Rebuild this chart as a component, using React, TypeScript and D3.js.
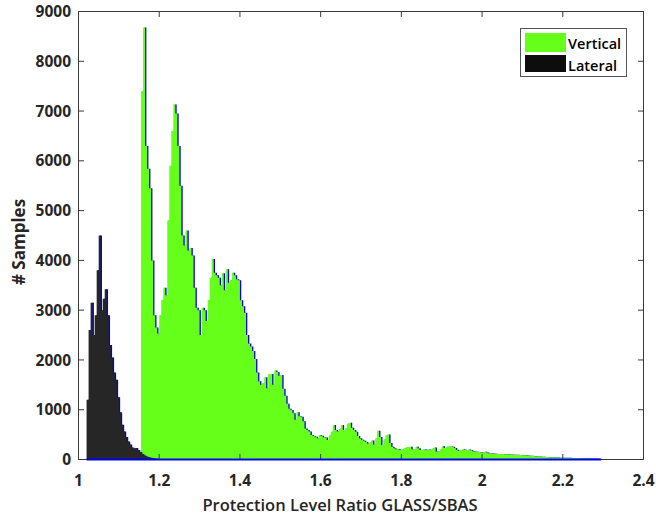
import React from "react";
import * as d3 from "d3";

// ---- data (histogram counts, bin width 0.005) ----
const BIN_WIDTH = 0.005;
const lateralStart = 1.02;
const lateralCounts = [
  1200, 2600, 3150, 2500, 2900, 3800, 4500, 3000, 3230, 3420,
  2900, 2300, 2050, 1750, 1600, 1250, 950, 700, 560, 450,
  360, 300, 240, 220, 230, 190, 150, 110, 80, 60,
  45, 35, 25, 20, 15, 10,
];
const verticalStart = 1.155;
const verticalCounts = [
  7400, 8680, 6300, 5840, 5450, 4000, 2900, 2650, 2530, 2900,
  3200, 3450, 3300, 4800, 5900, 6600, 7130, 6950, 6300, 5500,
  4500, 4300, 4600, 4200, 4250, 4100, 3450, 3050, 3000, 2500,
  3050, 3000, 2780, 3200, 3650, 4030, 3750, 3700, 3650, 3500,
  3740, 3400, 3820, 3550, 3600, 3750, 3700, 3620, 3600, 3200,
  3080, 2950, 2500, 2330, 2270, 2180, 2020, 1750, 1570, 1500,
  1530, 1650, 1430, 1720, 1720, 1500, 1790, 1760, 1680, 1700,
  1420, 1280, 1120, 1020, 994, 930, 800, 950, 870, 860,
  770, 625, 592, 560, 490, 470, 458, 425, 492, 475,
  445, 440, 391, 480, 559, 692, 592, 560, 620, 692,
  592, 625, 720, 740, 640, 592, 559, 470, 425, 395,
  378, 350, 320, 340, 380, 300, 420, 580, 450, 291,
  400, 480, 500, 330, 258, 224, 205, 211, 191, 204,
  224, 240, 250, 258, 204, 210, 255, 224, 191, 195,
  204, 195, 200, 195, 220, 240, 160, 157, 204, 265,
  230, 258, 258, 262, 255, 230, 195, 177, 190, 204,
  198, 191, 200, 185, 165, 160, 155, 150, 145, 137,
  155, 140, 128, 124, 120, 115, 110, 112, 110, 108,
  106, 104, 100, 101, 97, 95, 93, 90, 88, 86,
  84, 80, 76, 73, 70, 66, 62, 58, 55, 53,
  51, 49, 47, 45, 43, 41, 39, 37, 37, 36,
  35, 34, 33, 31, 30, 30, 29, 28, 27, 26,
  24, 23, 22, 21, 20, 18, 15, 10,
];
const xTicks = [1, 1.2, 1.4, 1.6, 1.8, 2, 2.2, 2.4];
const yTicks = [0, 1000, 2000, 3000, 4000, 5000, 6000, 7000, 8000, 9000];
const seriesNames = ["Vertical", "Lateral"];

const GREEN = "#66ff1a";
const DARK = "#262626";
const EDGE = "#0000ee";
const FONT = "'Open Sans', 'Liberation Sans', sans-serif";
const TEXT = "#262626";

export default function App() {
  const W = 656, H = 516;
  const x = d3.scaleLinear().domain([1, 2.4]).range([78.5, 643.5]);
  const y = d3.scaleLinear().domain([0, 9000]).range([459.5, 11.5]);

  const toPts = (start: number, counts: number[]) => {
    const pts = counts.map((c, i) => ({ x: start + i * BIN_WIDTH, y: c }));
    pts.push({ x: start + counts.length * BIN_WIDTH, y: counts[counts.length - 1] });
    return pts;
  };
  const area = d3
    .area<{ x: number; y: number }>()
    .x((d) => x(d.x))
    .y0(y(0))
    .y1((d) => y(d.y))
    .curve(d3.curveStepAfter);

  const vPath = area(toPts(verticalStart, verticalCounts)) || "";
  const lPath = area(toPts(lateralStart, lateralCounts)) || "";

  const dataEnd = verticalStart + verticalCounts.length * BIN_WIDTH;

  return (
    <svg
      width={W}
      height={H}
      style={{ position: "absolute", left: 0, top: 0, background: "#fff" }}
    >
      <rect x={0} y={0} width={W} height={H} fill="#fff" />
      {/* vertical series */}
      <path d={vPath} fill={EDGE} transform="translate(1.3,0)" />
      <path d={vPath} fill={GREEN} />
      {/* lateral series */}
      <path d={lPath} fill={EDGE} transform="translate(1.3,0)" />
      <path d={lPath} fill={DARK} />

      {/* axes box */}
      <rect
        x={x(1)}
        y={y(9000)}
        width={x(2.4) - x(1)}
        height={y(0) - y(9000)}
        fill="none"
        stroke="#3a3a3a"
        strokeWidth={1}
      />
      {xTicks.map((t) => (
        <g key={"xt" + t}>
          <line x1={x(t)} x2={x(t)} y1={y(0)} y2={y(0) - 5.5} stroke="#3a3a3a" />
          <line x1={x(t)} x2={x(t)} y1={y(9000)} y2={y(9000) + 5.5} stroke="#3a3a3a" />
          <text
            x={x(t)}
            y={486}
            textAnchor="middle"
            fontFamily={FONT}
            fontWeight={700}
            fontSize={15.5}
            fill={TEXT}
          >
            {d3.format("~g")(t)}
          </text>
        </g>
      ))}
      {yTicks.map((t) => (
        <g key={"yt" + t}>
          <line x1={x(1)} x2={x(1) + 5.5} y1={y(t)} y2={y(t)} stroke="#3a3a3a" />
          <line x1={x(2.4)} x2={x(2.4) - 5.5} y1={y(t)} y2={y(t)} stroke="#3a3a3a" />
          <text
            x={71}
            y={y(t)}
            dy="0.36em"
            textAnchor="end"
            fontFamily={FONT}
            fontWeight={700}
            fontSize={15.5}
            fill={TEXT}
          >
            {t}
          </text>
        </g>
      ))}

      {/* blue baseline */}
      <line
        x1={x(lateralStart)}
        x2={x(dataEnd)}
        y1={y(0)}
        y2={y(0)}
        stroke={EDGE}
        strokeWidth={2}
      />

      {/* axis labels */}
      <text
        x={340}
        y={511}
        textAnchor="middle"
        fontFamily={FONT}
        fontWeight={600}
        fontSize={16.5}
        fill={TEXT}
      >
        Protection Level Ratio GLASS/SBAS
      </text>
      <text
        transform={`translate(25,242) rotate(-90)`}
        textAnchor="middle"
        fontFamily={FONT}
        fontWeight={700}
        fontSize={17}
        fill={TEXT}
      >
        # Samples
      </text>

      {/* legend */}
      <g>
        <rect x={520.5} y={28.5} width={106} height={48} fill="#fff" stroke="#555" strokeWidth={1} />
        <rect x={525} y={33} width={41} height={19} fill={GREEN} />
        <rect x={525} y={55} width={41} height={17} fill="#0d0d0d" />
        <text x={568} y={49} fontFamily={FONT} fontWeight={600} fontSize={14.5} fill="#000">
          {seriesNames[0]}
        </text>
        <text x={568} y={70.5} fontFamily={FONT} fontWeight={600} fontSize={14.5} fill="#000">
          {seriesNames[1]}
        </text>
      </g>
    </svg>
  );
}
